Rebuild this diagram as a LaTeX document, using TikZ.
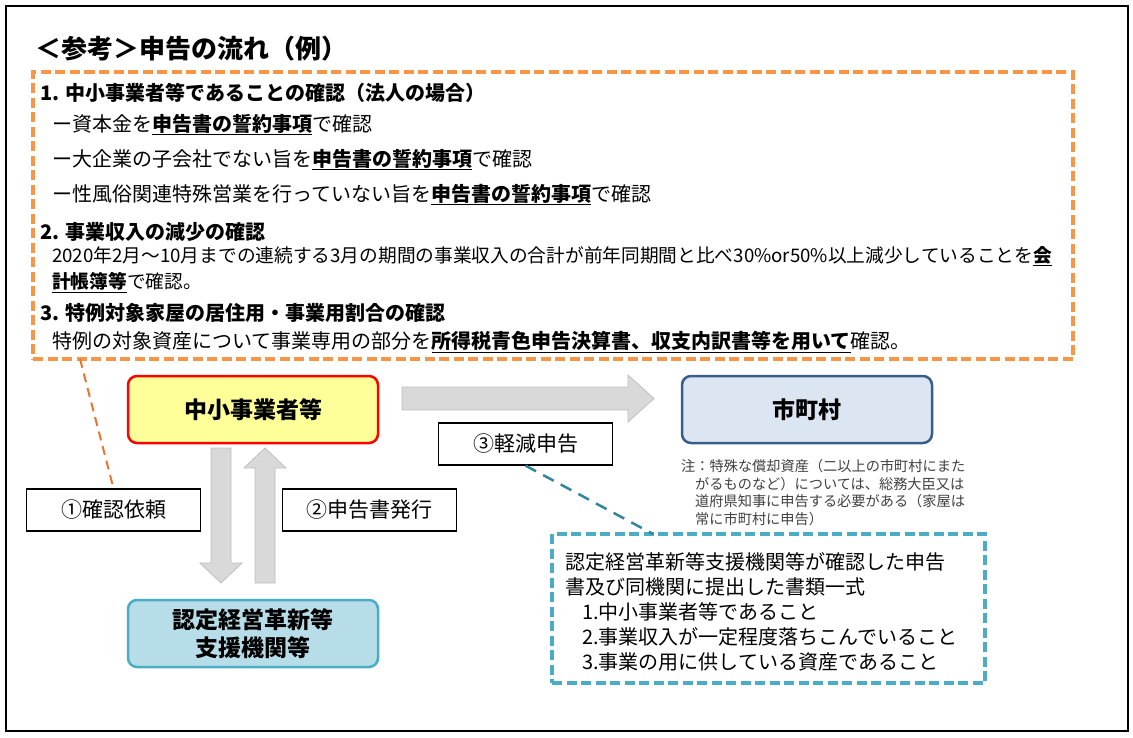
\documentclass[tikz,border=0pt]{standalone}
\usepackage{fontspec}
\setmainfont{Noto Sans CJK JP}
\usetikzlibrary{calc}
\definecolor{obord}{HTML}{F79646}
\definecolor{oline}{HTML}{EA7430}
\definecolor{tbord}{HTML}{4BACC6}
\definecolor{tline}{HTML}{31859C}
\definecolor{ybox}{HTML}{FFFF99}
\definecolor{rbord}{HTML}{FF0000}
\definecolor{cbox}{HTML}{DCE6F2}
\definecolor{cbord}{HTML}{385D8A}
\definecolor{abox}{HTML}{B7DEE8}
\definecolor{arrfill}{HTML}{D9D9D9}
\definecolor{arrdraw}{HTML}{BFBFBF}
\definecolor{notegray}{HTML}{404040}
\newcommand{\ulb}[1]{\underline{\textbf{#1}}}
\begin{document}
\begin{tikzpicture}[x=1pt,y=-1pt,
  body/.style={anchor=base west, inner sep=0pt, font=\fontsize{20}{24}\selectfont},
  head/.style={anchor=base west, inner sep=0pt, font=\fontsize{20}{24}\selectfont\bfseries},
  mainbox/.style={rounded corners=9pt, line width=2.5pt, minimum width=250pt, minimum height=67pt, inner sep=0pt, align=center, font=\fontsize{23}{28}\selectfont\bfseries},
  lbl/.style={draw=black, line width=1.2pt, fill=white, minimum width=174pt, minimum height=42pt, inner sep=0pt, font=\fontsize{21}{24}\selectfont},
  bigarrow/.style={fill=arrfill, draw=arrdraw, line width=0.8pt},
  odash/.style={draw=obord, line width=3.2pt, dash pattern=on 10pt off 4.5pt},
  tdash/.style={draw=tbord, line width=3.2pt, dash pattern=on 10pt off 4.5pt},
  oconn/.style={draw=oline, line width=2pt, dash pattern=on 9pt off 6pt},
  tconn/.style={draw=tline, line width=2.5pt, dash pattern=on 12pt off 8pt},
  notetxt/.style={anchor=base west, inner sep=0pt, text=notegray, font=\fontsize{14.2}{17}\selectfont},
  docstxt/.style={anchor=base west, inner sep=0pt, font=\fontsize{20}{24}\selectfont}]
\useasboundingbox (0,0) rectangle (1133,737);
\draw[line width=2pt] (5.5,5.5) rectangle (1127.5,731);

% title
\node[anchor=base west, inner sep=0pt, font=\fontsize{26}{30}\selectfont\bfseries] (title) at (35,58) {＜参考＞申告の流れ（例）};

% orange dashed box
\node[odash, minimum width=1040pt, minimum height=287pt, inner sep=0pt] (checks) at (553,215.5) {};
\node[head] (h1) at (40,100.5) {1. 中小事業者等であることの確認（法人の場合）};
\node[body] (l1) at (52,131) {ー資本金を\ulb{申告書の誓約事項}で確認};
\node[body] (l2) at (52,166) {ー大企業の子会社でない旨を\ulb{申告書の誓約事項}で確認};
\node[body] (l3) at (52,201) {ー性風俗関連特殊営業を行っていない旨を\ulb{申告書の誓約事項}で確認};
\node[head] (h2) at (40,239.5) {2. 事業収入の減少の確認};
\node[anchor=base west, inner sep=0pt, font=\fontsize{18.7}{24}\selectfont] (l4) at (52,262.5) {2020年2月～10月までの連続する3月の期間の事業収入の合計が前年同期間と比べ30\%or50\%以上減少していることを\ulb{会}};
\node[anchor=base west, inner sep=0pt, font=\fontsize{18.7}{24}\selectfont] (l5) at (52,288.5) {\ulb{計帳簿等}で確認。};
\node[head] (h3) at (40,320.5) {3. 特例対象家屋の居住用・事業用割合の確認};
\node[body] (l6) at (52,348.5) {特例の対象資産について事業専用の部分を\ulb{所得税青色申告決算書、収支内訳書等を用いて}確認。};

% main boxes
\node[mainbox, draw=rbord, fill=ybox] (biz) at (253,409.5) {中小事業者等};
\node[mainbox, draw=cbord, fill=cbox] (city) at (807,409.5) {市町村};
\node[mainbox, draw=tbord, fill=abox] (agency) at (253,633.5) {認定経営革新等\\支援機関等};

% big arrows
\draw[bigarrow] (402,387) -- (628,387) -- (628,375) -- (654,398.5) -- (628,422) -- (628,410) -- (402,410) -- cycle;
\draw[bigarrow] (211,448) -- (231,448) -- (231,563) -- (242,563) -- (221,583) -- (200,563) -- (211,563) -- cycle;
\draw[bigarrow] (255,583) -- (275,583) -- (275,468) -- (286,468) -- (265,448) -- (244,468) -- (255,468) -- cycle;

% labels
\node[lbl] (lbl1) at (113.5,510) {①確認依頼};
\node[lbl] (lbl2) at (369.5,510) {②申告書発行};
\node[lbl] (lbl3) at (525.5,444) {③軽減申告};

% note
\node[notetxt] (n1) at (681,471.5) {注：特殊な償却資産（二以上の市町村にまた};
\node[notetxt] (n2) at (695,489) {がるものなど）については、総務大臣又は};
\node[notetxt] (n3) at (695,506.5) {道府県知事に申告する必要がある（家屋は};
\node[notetxt] (n4) at (695,524) {常に市町村に申告）};

% documents box
\node[tdash, minimum width=433pt, minimum height=149pt, inner sep=0pt] (docs) at (768.5,608.5) {};
\node[docstxt] (d1) at (565,569.5) {認定経営革新等支援機関等が確認した申告};
\node[docstxt] (d2) at (565,594.5) {書及び同機関に提出した書類一式};
\node[docstxt] (d3) at (582,619) {1.中小事業者等であること};
\node[docstxt] (d4) at (582,644) {2.事業収入が一定程度落ちこんでいること};
\node[docstxt] (d5) at (582,669) {3.事業の用に供している資産であること};

% connectors
\coordinate (ofoot) at (80,359);
\draw[oconn] (ofoot) -- (lbl1.north);
\coordinate (tfoot) at (653,534);
\draw[tconn] (lbl3.south) -- (tfoot);
\end{tikzpicture}
\end{document}
